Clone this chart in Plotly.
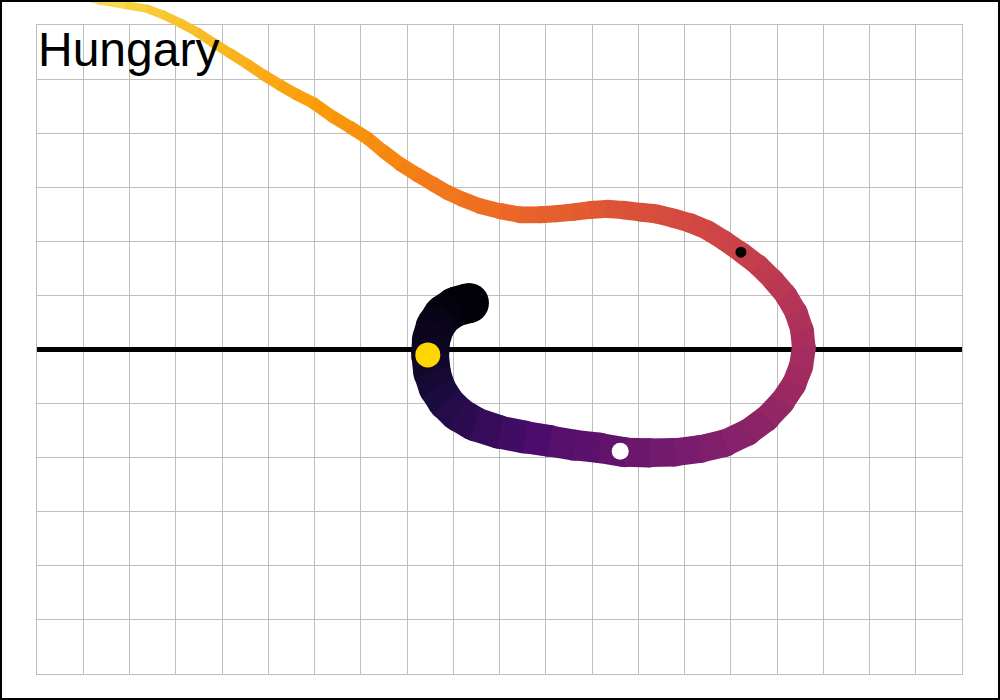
import plotly.graph_objects as go
from plotly.colors import sample_colorscale

# ---------------- data (grid units: x 0..20, y -6..6, y=0 is the reference line)
path_x = [9.34, 9.04, 8.78, 8.61, 8.52, 8.50, 8.54, 8.65, 8.84, 9.10,
          9.47, 10.01, 10.55, 11.09, 11.63, 12.17, 12.71, 13.25, 13.79, 14.34,
          14.88, 15.37, 15.78, 16.11, 16.37, 16.52, 16.58, 16.54, 16.41, 16.19,
          15.91, 15.59, 15.22, 14.85, 14.49, 14.12, 13.75, 13.38, 13.04, 12.67,
          12.32, 11.96, 11.59, 11.22, 10.88, 10.44, 10.01, 9.58, 9.19, 8.86,
          8.56, 8.22, 7.85, 7.48, 7.14, 6.77, 6.40, 5.97, 5.60, 5.25,
          4.89, 4.54, 4.17, 3.81, 3.46, 3.09, 2.72, 2.38, 1.90, 1.36, 0.93]
path_y = [0.86, 0.79, 0.64, 0.43, 0.18, -0.10, -0.42, -0.71, -0.97, -1.19,
          -1.38, -1.53, -1.62, -1.69, -1.77, -1.82, -1.90, -1.91, -1.90, -1.84,
          -1.73, -1.53, -1.27, -0.97, -0.64, -0.31, 0.03, 0.36, 0.69, 1.01,
          1.29, 1.56, 1.80, 2.02, 2.21, 2.34, 2.43, 2.51, 2.54, 2.58,
          2.60, 2.58, 2.54, 2.51, 2.49, 2.49, 2.56, 2.65, 2.78, 2.91,
          3.06, 3.23, 3.43, 3.67, 3.91, 4.11, 4.30, 4.56, 4.72, 4.89,
          5.08, 5.28, 5.48, 5.67, 5.87, 6.04, 6.19, 6.30, 6.37, 6.44, 6.54]
# time fraction along the trajectory (drives colour and width)
path_t = [0.00, 0.01, 0.03, 0.04, 0.05, 0.06, 0.08, 0.10, 0.12, 0.14,
          0.16, 0.19, 0.21, 0.24, 0.26, 0.27, 0.29, 0.31, 0.33, 0.34,
          0.36, 0.38, 0.39, 0.41, 0.43, 0.44, 0.45, 0.46, 0.48, 0.49,
          0.51, 0.52, 0.54, 0.55, 0.56, 0.57, 0.58, 0.58, 0.59, 0.60,
          0.61, 0.62, 0.63, 0.64, 0.64, 0.65, 0.67, 0.68, 0.69, 0.70,
          0.70, 0.71, 0.73, 0.74, 0.75, 0.76, 0.77, 0.78, 0.79, 0.80,
          0.81, 0.82, 0.83, 0.84, 0.85, 0.86, 0.87, 0.88, 0.90, 0.91, 0.93]

marker_x = [8.45, 12.61, 15.22]
marker_y = [-0.10, -1.88, 1.80]
marker_colors = ["#FFD700", "#FFFFFF", "#000000"]
marker_sizes = [25, 17, 11]

title_text = "Hungary"

# ---------------- scales
X_RANGE = [0, 20]
Y_RANGE = [-6, 6]
W_W, W_H = 1000, 700
xd = [37 / W_W, 962 / W_W]
yd = [(W_H - 674) / W_H, (W_H - 25) / W_H]


def width_of(t):
    return 40 - 36 * t


def outer_range(r, d):
    span = (r[1] - r[0]) / (d[1] - d[0])
    return [r[0] - d[0] * span, r[1] + (1 - d[1]) * span]


fig = go.Figure()
# invisible trace so the grid subplot exists
fig.add_trace(go.Scatter(x=[X_RANGE[0]], y=[Y_RANGE[0]], xaxis="x", yaxis="y",
                         mode="markers", marker=dict(opacity=0), hoverinfo="skip"))

# trajectory: one segment per pair of points, colour & width from time;
# a round joint is drawn at the end of each segment (and at the very start)
for i in range(len(path_x) - 1):
    tm = (path_t[i] + path_t[i + 1]) / 2
    col = sample_colorscale("Inferno", [tm])[0]
    w = width_of(tm)
    start_size = width_of(path_t[0]) if i == 0 else 0
    fig.add_trace(go.Scatter(
        x=[path_x[i], path_x[i + 1]], y=[path_y[i], path_y[i + 1]],
        mode="lines+markers", xaxis="x2", yaxis="y2", hoverinfo="skip",
        line=dict(color=col, width=w),
        marker=dict(size=[start_size, w], color=col, opacity=1, line=dict(width=0)),
    ))

fig.add_trace(go.Scatter(
    x=marker_x, y=marker_y, mode="markers", xaxis="x2", yaxis="y2", hoverinfo="skip",
    marker=dict(size=marker_sizes, color=marker_colors, opacity=1, line=dict(width=0)),
))

grid_axis = dict(showgrid=True, gridcolor="#bebebe", gridwidth=1, dtick=1, tick0=0,
                 showticklabels=False, ticks="", showline=True, mirror=True,
                 linecolor="#bebebe", linewidth=1, fixedrange=True)

fig.update_layout(
    width=W_W, height=W_H,
    margin=dict(l=0, r=0, t=0, b=0, pad=0),
    paper_bgcolor="white", plot_bgcolor="rgba(0,0,0,0)",
    showlegend=False, hovermode=False,
    xaxis=dict(domain=xd, range=X_RANGE, zeroline=False, anchor="y", **grid_axis),
    yaxis=dict(domain=yd, range=Y_RANGE, zeroline=True, zerolinecolor="black",
               zerolinewidth=4.5, anchor="x", **grid_axis),
    xaxis2=dict(domain=[0, 1], range=outer_range(X_RANGE, xd), visible=False,
                anchor="y2", fixedrange=True),
    yaxis2=dict(domain=[0, 1], range=outer_range(Y_RANGE, yd), visible=False,
                anchor="x2", fixedrange=True),
    annotations=[dict(text=title_text, xref="x domain", yref="y domain", x=0, y=1,
                      xanchor="left", yanchor="top", showarrow=False, xshift=-1, yshift=4,
                      font=dict(family="Liberation Sans, Arial", size=48, color="black"))],
    shapes=[dict(type="rect", xref="paper", yref="paper", x0=1 / W_W, x1=1 - 1 / W_W,
                 y0=1 / W_H, y1=1 - 1 / W_H, line=dict(color="black", width=2))],
)

fig.write_html("out.html", config={"displayModeBar": False},
               post_script="document.body.style.margin='0';")
